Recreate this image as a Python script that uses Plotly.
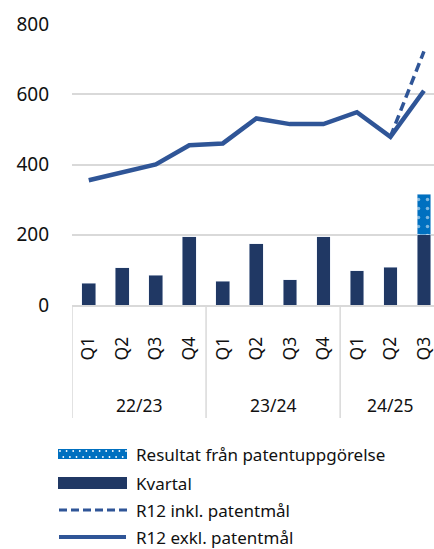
import plotly.graph_objects as go

quarters = ["Q1", "Q2", "Q3", "Q4", "Q1", "Q2", "Q3", "Q4", "Q1", "Q2", "Q3"]
years = ["22/23", "23/24", "24/25"]
year_sizes = [4, 4, 3]

kvartal = [62, 106, 85, 194, 67, 174, 72, 195, 98, 108, 200]
patent = [None, None, None, None, None, None, None, None, None, None, 115]
r12_exkl = [355, 378, 400, 455, 460, 531, 515, 515, 549, 479, 610]
r12_inkl = [None, None, None, None, None, None, None, None, None, 479, 722]

NAVY = "#203864"
LINE = "#2F5597"
BLUE = "#0070C0"
GRID = "#D9D9D9"
FONT = "Noto Sans"
TXT = "#111111"

x = list(range(len(quarters)))

fig = go.Figure()
fig.add_trace(go.Bar(x=x, y=kvartal, marker_color=NAVY, name="Kvartal"))
fig.add_trace(go.Bar(
    x=x, y=patent, name="Resultat från patentuppgörelse",
    marker=dict(color=BLUE, pattern=dict(shape=".", fgcolor="white", bgcolor=BLUE,
                                         size=9, solidity=0.12)),
))
fig.add_trace(go.Scatter(x=x, y=r12_inkl, mode="lines", name="R12 inkl. patentmål",
                         line=dict(color=LINE, width=3.5, dash="9px,5px")))
fig.add_trace(go.Scatter(x=x, y=r12_exkl, mode="lines", name="R12 exkl. patentmål",
                         line=dict(color=LINE, width=4.5)))

# pixel helpers for the decorations below the plot area
L, R, T, B = 72, 434, 24, 305


def px_x(p):
    return (p - L) / (R - L)


def px_y(p):
    return (B - p) / (B - T)


shapes = []
annotations = []

# group dividers and year labels
start = 0
for yr, n in zip(years, year_sizes):
    shapes.append(dict(type="line", xref="x", yref="paper", x0=start - 0.5, x1=start - 0.5,
                       y0=0, y1=px_y(418), line=dict(color=GRID, width=1.5)))
    annotations.append(dict(text=yr, xref="x", yref="paper", x=start + (n - 1) / 2,
                            y=px_y(405), showarrow=False, yanchor="middle",
                            font=dict(size=17.5, color=TXT, family=FONT)))
    start += n

# custom legend
sw0, sw1 = 58, 127
rows = [454, 483, 510, 537]
labels = ["Resultat från patentuppgörelse", "Kvartal", "R12 inkl. patentmål", "R12 exkl. patentmål"]

shapes.append(dict(type="rect", xref="paper", yref="paper", x0=px_x(sw0), x1=px_x(sw1),
                   y0=px_y(rows[0] - 5), y1=px_y(rows[0] + 5), fillcolor=BLUE, line_width=0))
for row_i, yy in enumerate([rows[0] - 3, rows[0] + 3]):
    xx = sw0 + 2 + (row_i * 3.3)
    while xx < sw1 - 1:
        shapes.append(dict(type="circle", xref="paper", yref="paper", xsizemode="pixel",
                           ysizemode="pixel", xanchor=px_x(xx), yanchor=px_y(yy),
                           x0=-0.9, x1=0.9, y0=-0.9, y1=0.9, fillcolor="white", line_width=0))
        xx += 6.6
shapes.append(dict(type="rect", xref="paper", yref="paper", x0=px_x(sw0), x1=px_x(sw1),
                   y0=px_y(rows[1] - 6), y1=px_y(rows[1] + 6), fillcolor=NAVY, line_width=0))
shapes.append(dict(type="line", xref="paper", yref="paper", x0=px_x(sw0 + 1), x1=px_x(sw1),
                   y0=px_y(rows[2]), y1=px_y(rows[2]),
                   line=dict(color=LINE, width=3, dash="8px,4px")))
shapes.append(dict(type="line", xref="paper", yref="paper", x0=px_x(sw0 + 1), x1=px_x(sw1 - 1),
                   y0=px_y(rows[3]), y1=px_y(rows[3]), line=dict(color=LINE, width=4)))
for lab, yy in zip(labels, rows):
    annotations.append(dict(text=lab, xref="paper", yref="paper", x=px_x(134), y=px_y(yy),
                            xanchor="left", yanchor="middle", showarrow=False,
                            font=dict(size=17, color=TXT, family=FONT)))

fig.update_layout(
    width=434, height=549,
    margin=dict(l=L, r=0, t=T, b=549 - B),
    barmode="stack", bargap=0.59,
    plot_bgcolor="white", paper_bgcolor="white",
    showlegend=False,
    font=dict(family=FONT, color=TXT),
    shapes=shapes, annotations=annotations,
    xaxis=dict(tickvals=x, ticktext=quarters, tickangle=-90, range=[-0.5, 10.3],
               showgrid=False, showline=True, linecolor=GRID, linewidth=1.5, ticks="",
               tickfont=dict(size=17.5, color=TXT), ticklabelstandoff=23, zeroline=False,
               ticklabeloverflow="allow"),
    yaxis=dict(range=[0, 800], tickvals=[0, 200, 400, 600, 800], gridcolor=GRID, gridwidth=1.5,
               zeroline=False, showline=False, ticks="", tickfont=dict(size=19, color=TXT),
               ticklabelstandoff=22),
)

fig.write_html("out.html", config={"displayModeBar": False},
               post_script="document.body.style.margin='0';document.body.style.overflow='hidden';")
